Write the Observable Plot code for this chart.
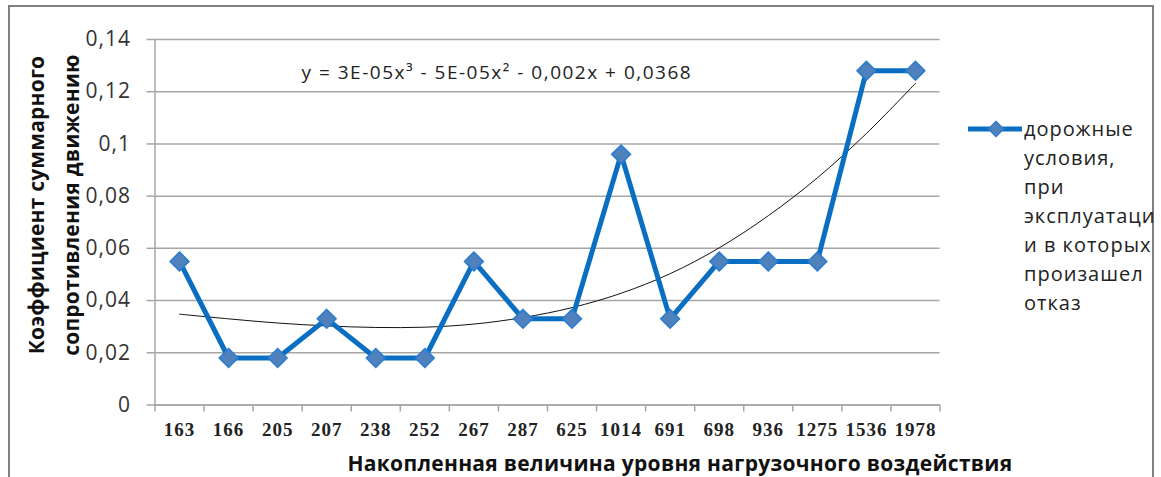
<!DOCTYPE html>
<html><head><meta charset="utf-8">
<script src="https://cdn.jsdelivr.net/npm/d3@7"></script>
<script src="https://cdn.jsdelivr.net/npm/@observablehq/plot@0.6"></script>
<style>
body{margin:0;background:#fff;overflow:hidden;}
#wrap{position:relative;width:1161px;height:477px;overflow:hidden;font-family:"Open Sans",sans-serif;color:#222;}
#frame{position:absolute;left:8px;top:5px;width:1146px;height:520px;border:2.5px solid #808080;box-sizing:border-box;}
#chart{position:absolute;left:0;top:0;}
#ytitle{position:absolute;left:54px;top:205px;transform:translate(-50%,-50%) rotate(-90deg);font-weight:700;font-size:21px;line-height:35px;text-align:center;white-space:nowrap;color:#111;letter-spacing:0.2px;}
#xtitle{position:absolute;left:680px;top:463px;transform:translate(-50%,-50%);font-weight:700;font-size:21px;white-space:nowrap;color:#111;letter-spacing:0.3px;}
#legend{position:absolute;left:966px;top:114px;display:flex;align-items:flex-start;}
#legend .txt{font-size:20px;line-height:29px;color:#222;white-space:nowrap;margin-left:2px;letter-spacing:1px;}
#legend svg{margin-top:4px;}
#chart .eq text{letter-spacing:1.5px;}
#chart .ylab text{letter-spacing:1px;}
#chart .xlab text{letter-spacing:1px;}
</style>
</head><body>
<div id="wrap">
  <div id="frame"></div>
  <div id="chart"></div>
  <div id="ytitle"></div>
  <div id="xtitle"></div>
  <div id="legend"></div>
</div>
<script>
const categories = ["163","166","205","207","238","252","267","287","625","1014","691","698","936","1275","1536","1978"];
const values = [0.055,0.018,0.018,0.033,0.018,0.018,0.055,0.033,0.033,0.096,0.033,0.055,0.055,0.055,0.128,0.128];
const trendValues = [0.0348,0.0330,0.0314,0.0303,0.0297,0.0298,0.0310,0.0335,0.0373,0.0428,0.0503,0.0602,0.0725,0.0870,0.1040,0.1232];
const yTicks = [0,0.02,0.04,0.06,0.08,0.1,0.12,0.14];
const yTickLabels = ["0","0,02","0,04","0,06","0,08","0,1","0,12","0,14"];
const legendLines = ["дорожные","условия,","при","эксплуатаци","и в которых","произашел","отказ"];
const equation = "y = 3E-05x³ - 5E-05x² - 0,002x + 0,0368";
const yTitleLines = ["Коэффициент суммарного","сопротивления движению"];
const xTitle = "Накопленная величина уровня нагрузочного воздействия";

const lineColor = "#0a6fc2", markFill = "#4f81bd", markStroke = "#2b7bd0";

const data = categories.map((c,i)=>({i:i+1, cat:c, v:values[i], t:trendValues[i]}));
const idx = data.map(d=>d.i);
const bounds = d3.range(0, categories.length+1).map(k=>k+0.5);

const chart = Plot.plot({
  width:1161, height:477,
  marginLeft:154.5, marginRight:221.5, marginTop:39, marginBottom:72.5,
  style:{background:"transparent", fontFamily:"Open Sans"},
  x:{type:"linear", domain:[bounds[0], bounds[bounds.length-1]]},
  y:{domain:[0,0.14]},
  marks:[
    Plot.gridY(yTicks,{stroke:"#a6a6a6", strokeOpacity:1, strokeWidth:1.5}),
    Plot.axisY(yTicks,{tickSize:8, tickPadding:16, strokeWidth:1.5, stroke:"#a6a6a6", fill:"#333",
      tickFormat:d=>yTickLabels[yTicks.indexOf(d)], fontSize:21, fontFamily:"Open Sans", label:null, className:"ylab"}),
    Plot.ruleX([bounds[0]],{stroke:"#a6a6a6", strokeWidth:1.5}),
    Plot.ruleY([0],{stroke:"#a6a6a6", strokeWidth:1.5}),
    Plot.axisX(bounds,{tickSize:7, tickFormat:()=>"", stroke:"#a6a6a6", strokeWidth:1.5, label:null}),
    Plot.axisX(idx,{tickSize:0, tickPadding:17, tickFormat:d=>categories[d-1], fontFamily:"Liberation Serif",
      fontWeight:"bold", fontSize:19, fill:"#222", label:null, className:"xlab"}),
    Plot.line(data,{x:"i", y:"t", stroke:"#111", strokeWidth:1, curve:"catmull-rom"}),
    Plot.line(data,{x:"i", y:"v", stroke:lineColor, strokeWidth:5, strokeLinejoin:"round"}),
    Plot.dot(data,{x:"i", y:"v", symbol:"diamond2", r:8.5, fill:markFill, stroke:markStroke, strokeWidth:1.5}),
    Plot.text([equation],{text:d=>d, frameAnchor:"top-left", textAnchor:"start", lineAnchor:"middle",
      dx:146.5, dy:33, fontSize:19, fill:"#222", fontFamily:"Open Sans", className:"eq"})
  ]
});
document.getElementById("chart").appendChild(chart);

document.getElementById("ytitle").innerHTML = yTitleLines.join("<br>");
document.getElementById("xtitle").textContent = xTitle;

const leg = document.getElementById("legend");
const sw = d3.create("svg").attr("width",56).attr("height",22);
sw.append("line").attr("x1",2).attr("x2",56).attr("y1",11).attr("y2",11).attr("stroke",lineColor).attr("stroke-width",5);
sw.append("path").attr("d",d3.symbol(d3.symbolDiamond2, Math.PI*7*7)()).attr("transform","translate(30,11)")
  .attr("fill",markFill).attr("stroke",markStroke).attr("stroke-width",1.2);
leg.appendChild(sw.node());
const txt = document.createElement("div");
txt.className = "txt";
txt.innerHTML = legendLines.join("<br>");
leg.appendChild(txt);
</script>
</body></html>
